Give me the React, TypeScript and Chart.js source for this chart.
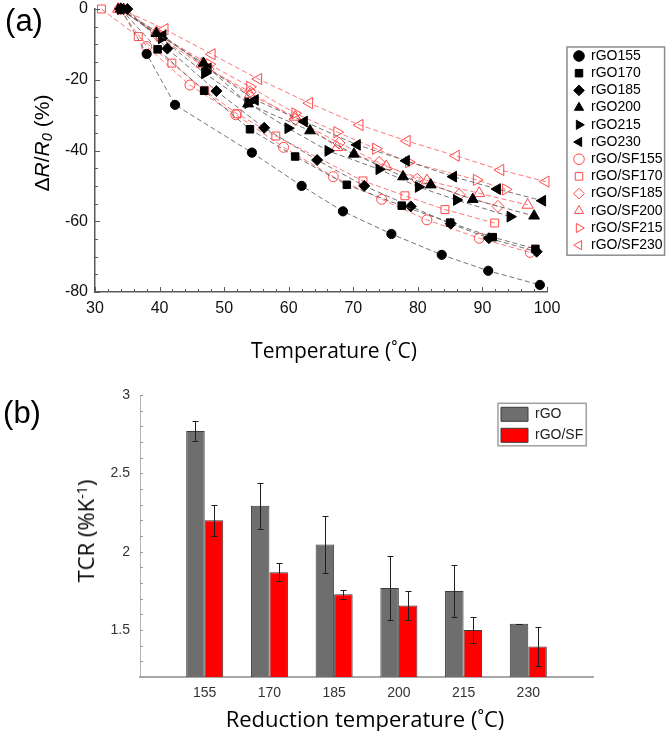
import React, { useEffect, useRef } from 'react';
import { Chart, registerables } from 'chart.js';

Chart.register(...registerables);
Chart.defaults.font.family = '"Liberation Sans", Arial, sans-serif';

// ---------------- Panel (a): ΔR/R0 vs temperature ----------------
const T_RGO155 = [34, 38, 42.4, 54.3, 62, 68.4, 75.9, 83.7, 90.9, 98.9];
const R_RGO155 = [0, -12.7, -27.1, -40.6, -50, -57.2, -63.6, -69.5, -74, -78];
const T_RGO170 = [34, 39.7, 46.9, 54, 61, 69, 77.5, 85, 91.6, 98.2];
const R_RGO170 = [0, -11.4, -23.1, -34, -41.7, -49.7, -55.6, -60.4, -64.5, -67.8];
const T_RGO185 = [35, 41.2, 48.8, 56.2, 64.4, 71.7, 78.9, 85.1, 91, 98.4];
const R_RGO185 = [0, -11.2, -23.2, -33.6, -42.7, -50, -55.8, -60.7, -64.8, -68.6];
const T_RGO200 = [34, 39.5, 46.8, 53.7, 63.3, 70.1, 77.7, 82, 88.5, 98];
const R_RGO200 = [0, -6.9, -15.3, -26.8, -34.4, -41, -47.4, -49.7, -53.8, -58.5];
const T_RGO215 = [34, 40.3, 47, 53.7, 59.9, 66.1, 74, 80.1, 86, 94.3];
const R_RGO215 = [0, -8.3, -18.2, -26.6, -33.7, -40.1, -45.3, -50.3, -54, -58.7];
const T_RGO230 = [34, 40.5, 47.5, 54.8, 62.4, 70.6, 78.2, 85.5, 92.3, 99.3];
const R_RGO230 = [0, -7.5, -16.8, -25.7, -31.8, -38.4, -42.9, -47.4, -50.9, -54.2];
const T_SF155 = [33.8, 38, 44.7, 51.8, 59.2, 66.9, 74.4, 81.4, 89.5, 97.4];
const R_SF155 = [0, -10.6, -21.5, -29.9, -39.1, -47.4, -53.8, -59.6, -64.8, -68.8];
const T_SF170 = [31, 36.7, 41.9, 47, 52, 58, 71.5, 78, 84.2, 91.9];
const R_SF170 = [0, -7.8, -15.3, -23, -29.6, -35.9, -48.6, -52.8, -56.7, -60.5];
const T_SF185 = [34, 40, 47.5, 54, 61, 67.8, 74, 79.9, 86.4, 92.4];
const R_SF185 = [0, -8, -17, -23.4, -31.2, -37.9, -43.4, -48.1, -52.5, -55.8];
const T_SF200 = [33.6, 39.5, 46.5, 54, 61, 67.5, 75.1, 81.4, 89.5, 97];
const R_SF200 = [0, -6.5, -15.5, -24.2, -30.5, -39.1, -44.5, -48.5, -52.1, -55.4];
const T_SF215 = [34, 40, 47.7, 54, 61, 67.5, 73.5, 78.6, 89.1, 93.6];
const R_SF215 = [0, -7.5, -15.6, -22, -29.5, -34.8, -39.5, -43.3, -48.3, -51];
const T_SF230 = [34, 40.8, 48.1, 55.3, 63.2, 71, 78.3, 85.9, 92.8, 99.8];
const R_SF230 = [0, -5.7, -12.8, -19.8, -26.6, -32.8, -37.3, -41.5, -45.5, -48.8];

const X_MIN = 30, X_MAX = 100, X_STEP = 10, X_MINOR = 2;
const Y_MIN = -80, Y_MAX = 0, Y_STEP = 20, Y_MINOR = 5;

// ---------------- Panel (b): TCR bars ----------------
const CATEGORIES = ['155', '170', '185', '200', '215', '230'];
const TCR_RGO = [2.77, 2.293, 2.045, 1.768, 1.749, 1.54];
const ERR_RGO = [0.065, 0.147, 0.18, 0.207, 0.165, 0];
const TCR_SF = [2.2, 1.868, 1.728, 1.656, 1.5, 1.395];
const ERR_SF = [0.1, 0.057, 0.027, 0.095, 0.083, 0.127];
const B_MIN = 1.2, B_MAX = 3, B_STEP = 0.5;

// ---------------- styles ----------------
const BLACK_LINE = 'rgba(90,90,90,0.85)';
const RED_LINE = 'rgba(255,85,85,0.8)';
const RED_MARK = '#ff4a4a';
const AXIS_A = '#5a5a5a';

const SERIES_A = [
  { label: 'rGO155', t: T_RGO155, r: R_RGO155, ps: 'circle', rot: 0, red: false, rad: 4.6 },
  { label: 'rGO170', t: T_RGO170, r: R_RGO170, ps: 'rect', rot: 0, red: false, rad: 5.3 },
  { label: 'rGO185', t: T_RGO185, r: R_RGO185, ps: 'rectRot', rot: 0, red: false, rad: 5.5 },
  { label: 'rGO200', t: T_RGO200, r: R_RGO200, ps: 'triangle', rot: 0, red: false, rad: 6.2 },
  { label: 'rGO215', t: T_RGO215, r: R_RGO215, ps: 'triangle', rot: 90, red: false, rad: 6.2 },
  { label: 'rGO230', t: T_RGO230, r: R_RGO230, ps: 'triangle', rot: -90, red: false, rad: 6.2 },
  { label: 'rGO/SF155', t: T_SF155, r: R_SF155, ps: 'circle', rot: 0, red: true, rad: 5 },
  { label: 'rGO/SF170', t: T_SF170, r: R_SF170, ps: 'rect', rot: 0, red: true, rad: 5.6 },
  { label: 'rGO/SF185', t: T_SF185, r: R_SF185, ps: 'rectRot', rot: 0, red: true, rad: 6 },
  { label: 'rGO/SF200', t: T_SF200, r: R_SF200, ps: 'triangle', rot: 0, red: true, rad: 6.5 },
  { label: 'rGO/SF215', t: T_SF215, r: R_SF215, ps: 'triangle', rot: 90, red: true, rad: 6.5 },
  { label: 'rGO/SF230', t: T_SF230, r: R_SF230, ps: 'triangle', rot: -90, red: true, rad: 6.5 },
];

// Places a 'chartArea' legend at a fixed spot and frames it
const legendPlacer = (id: string, left: number, top: number, frame: any) => ({
  id,
  afterLayout(chart: any) {
    const lg = chart.legend;
    if (!lg) return;
    const w = lg.width, h = lg.height;
    lg.left = left; lg.top = top; lg.right = left + w; lg.bottom = top + h;
  },
  afterDraw(chart: any) {
    const lg = chart.legend;
    if (!lg || !lg.legendHitBoxes || !lg.legendHitBoxes.length) return;
    const hb = lg.legendHitBoxes;
    let l = Infinity, r = -Infinity, t = Infinity, b = -Infinity;
    hb.forEach((h: any) => {
      l = Math.min(l, h.left); r = Math.max(r, h.left + h.width);
      t = Math.min(t, h.top); b = Math.max(b, h.top + h.height);
    });
    const ctx = chart.ctx;
    ctx.save();
    ctx.strokeStyle = frame.color;
    ctx.lineWidth = frame.width;
    ctx.strokeRect(l - frame.l, t - frame.t, r - l + frame.l + frame.r, b - t + frame.t + frame.b);
    ctx.restore();
  },
});

const innerTicksA = {
  id: 'innerTicksA',
  afterDraw(chart: any) {
    const { ctx, chartArea: ca, scales } = chart;
    const xs = scales.x, ys = scales.y;
    ctx.save();
    ctx.strokeStyle = AXIS_A;
    ctx.lineWidth = 1;
    ctx.beginPath();
    for (let v = X_MIN; v <= X_MAX; v += X_MINOR) {
      const len = v % X_STEP === 0 ? 5 : 3;
      const px = Math.round(xs.getPixelForValue(v)) + 0.5;
      ctx.moveTo(px, ca.bottom); ctx.lineTo(px, ca.bottom - len);
    }
    for (let v = Y_MIN; v <= Y_MAX; v += Y_MINOR) {
      const len = v % Y_STEP === 0 ? 5 : 3;
      const py = Math.round(ys.getPixelForValue(v)) + 0.5;
      ctx.moveTo(ca.left, py); ctx.lineTo(ca.left + len, py);
    }
    ctx.stroke();
    ctx.restore();
  },
};

const innerTicksB = {
  id: 'innerTicksB',
  afterDraw(chart: any) {
    const { ctx, chartArea: ca, scales } = chart;
    const ys = scales.y;
    ctx.save();
    ctx.strokeStyle = '#9a9a9a';
    ctx.lineWidth = 1;
    ctx.beginPath();
    for (let k = Math.round(B_MIN * 10); k <= Math.round(B_MAX * 10); k++) {
      const py = Math.round(ys.getPixelForValue(k / 10)) + 0.5;
      ctx.moveTo(ca.left, py); ctx.lineTo(ca.left + 3, py);
    }
    ctx.stroke();
    ctx.restore();
  },
};

const errorBars = {
  id: 'errorBars',
  afterDatasetsDraw(chart: any) {
    const { ctx } = chart;
    const ys = chart.scales.y;
    ctx.save();
    ctx.strokeStyle = '#1e1e1e';
    ctx.lineWidth = 1;
    chart.data.datasets.forEach((ds: any, di: number) => {
      const errs = ds.errors;
      if (!errs) return;
      const meta = chart.getDatasetMeta(di);
      meta.data.forEach((bar: any, i: number) => {
        const v = ds.data[i];
        const e = errs[i];
        if (v == null || e == null) return;
        const x = Math.round(bar.x) + 0.5;
        const yt = Math.round(ys.getPixelForValue(v + e)) + 0.5;
        const yb = Math.round(ys.getPixelForValue(v - e)) + 0.5;
        ctx.beginPath();
        ctx.moveTo(x, yt); ctx.lineTo(x, yb);
        ctx.moveTo(x - 3, yt); ctx.lineTo(x + 3, yt);
        ctx.moveTo(x - 3, yb); ctx.lineTo(x + 3, yb);
        ctx.stroke();
      });
    });
    ctx.restore();
  },
};

function ChartA() {
  const ref = useRef<HTMLCanvasElement>(null);
  useEffect(() => {
    const datasets = SERIES_A.map((s) => ({
      label: s.label,
      data: s.t.map((t, i) => ({ x: t, y: s.r[i] })),
      borderColor: s.red ? RED_LINE : BLACK_LINE,
      borderWidth: 1,
      borderDash: [5, 3],
      pointStyle: s.ps,
      pointRotation: s.rot,
      pointRadius: s.rad,
      pointBorderWidth: 1,
      pointBackgroundColor: s.red ? 'rgba(0,0,0,0)' : '#000',
      pointBorderColor: s.red ? RED_MARK : '#000',
      fill: false,
      tension: 0,
      clip: false,
    }));
    const chart = new Chart(ref.current as HTMLCanvasElement, {
      type: 'line',
      data: { datasets },
      options: {
        responsive: false,
        animation: false,
        events: [],
        layout: { padding: { left: 0, top: 9, right: 119, bottom: 0 } },
        scales: {
          x: {
            type: 'linear',
            min: X_MIN, max: X_MAX,
            grid: { display: false, drawTicks: false },
            border: { display: true, color: AXIS_A, width: 1.5 },
            ticks: { stepSize: X_STEP, padding: 7, color: '#111', font: { size: 16 } },
            afterFit: (s: any) => { s.height = 88; s.paddingLeft = 0; s.paddingRight = 0; },
          },
          y: {
            type: 'linear',
            min: Y_MIN, max: Y_MAX,
            grid: { display: false, drawTicks: false },
            border: { display: true, color: AXIS_A, width: 1.5 },
            ticks: { stepSize: Y_STEP, padding: 7, color: '#111', font: { size: 16 } },
            afterFit: (s: any) => { s.width = 95; s.paddingTop = 0; s.paddingBottom = 0; },
          },
        },
        plugins: {
          legend: {
            position: 'chartArea',
            align: 'start',
            labels: {
              usePointStyle: true,
              boxWidth: 10,
              boxHeight: 7.5,
              padding: 3.2,
              textAlign: 'left',
              color: '#000',
              font: { size: 14 },
            },
          },
          tooltip: { enabled: false },
        },
      } as any,
      plugins: [innerTicksA, legendPlacer('legendA', 570.8, 45.8, { color: '#8c8c8c', width: 1.5, l: 7, r: 2, t: 2, b: 3 })],
    });
    return () => chart.destroy();
  }, []);
  return <canvas ref={ref} width={666} height={380} style={{ position: 'absolute', left: 0, top: 0, width: 666, height: 380 }} />;
}

function ChartB() {
  const ref = useRef<HTMLCanvasElement>(null);
  useEffect(() => {
    const labels = ['', ...CATEGORIES, ''];
    const chart = new Chart(ref.current as HTMLCanvasElement, {
      type: 'bar',
      data: {
        labels,
        datasets: [
          {
            label: 'rGO',
            data: [null, ...TCR_RGO, null],
            errors: [null, ...ERR_RGO, null],
            backgroundColor: '#6e6e6e',
            borderColor: '#3a3a3a',
            borderWidth: 1,
            categoryPercentage: 0.572,
            barPercentage: 1,
          },
          {
            label: 'rGO/SF',
            data: [null, ...TCR_SF, null],
            errors: [null, ...ERR_SF, null],
            backgroundColor: '#ff0000',
            borderColor: '#3a3a3a',
            borderWidth: 1,
            categoryPercentage: 0.572,
            barPercentage: 1,
          },
        ],
      } as any,
      options: {
        responsive: false,
        animation: false,
        events: [],
        layout: { padding: { left: 0, top: 15, right: 73, bottom: 0 } },
        scales: {
          x: {
            type: 'category',
            offset: false,
            grid: { display: false, drawTicks: false },
            border: { display: true, color: '#a8a8a8', width: 2 },
            ticks: { padding: 8, color: '#333', font: { size: 14 }, autoSkip: false, maxRotation: 0 },
            afterFit: (s: any) => { s.height = 54; s.paddingLeft = 0; s.paddingRight = 0; },
          },
          y: {
            type: 'linear',
            min: B_MIN, max: B_MAX,
            grid: { display: false, drawTicks: false },
            border: { display: true, color: '#b4b4b4', width: 1 },
            ticks: {
              stepSize: B_STEP,
              padding: 10,
              color: '#333',
              font: { size: 14 },
              callback: (v: any) => {
                const n = Number(v);
                return Math.abs(n * 2 - Math.round(n * 2)) < 1e-6 ? String(Math.round(n * 10) / 10) : '';
              },
            },
            afterFit: (s: any) => { s.width = 140; s.paddingTop = 0; s.paddingBottom = 0; },
          },
        },
        plugins: {
          legend: {
            position: 'chartArea',
            align: 'start',
            labels: {
              boxWidth: 27,
              boxHeight: 14,
              padding: 7,
              textAlign: 'left',
              color: '#222',
              font: { size: 14 },
            },
          },
          tooltip: { enabled: false },
        },
      } as any,
      plugins: [innerTicksB, errorBars, legendPlacer('legendB', 494, 20.3, { color: '#a0a0a0', width: 1.5, l: 3, r: 3, t: 4, b: 3.5 })],
    });
    return () => chart.destroy();
  }, []);
  return <canvas ref={ref} width={666} height={351} style={{ position: 'absolute', left: 0, top: 380, width: 666, height: 351 }} />;
}

const center = (x: number, y: number, rot = ''): React.CSSProperties => ({
  position: 'absolute',
  left: x,
  top: y,
  transform: `translate(-50%, -50%)${rot}`,
  whiteSpace: 'nowrap',
  lineHeight: 1,
  color: '#000',
});

export default function App() {
  return (
    <div style={{ position: 'fixed', left: 0, top: 0, width: 666, height: 731, overflow: 'hidden', background: '#fff' }}>
      <ChartA />
      <ChartB />
      <div style={{ ...center(24, 20), fontFamily: '"Liberation Sans", Arial, sans-serif', fontSize: 31 }}>(a)</div>
      <div style={{ ...center(22, 412), fontFamily: '"Liberation Sans", Arial, sans-serif', fontSize: 31 }}>(b)</div>
      <div style={{ ...center(43, 143, ' rotate(-90deg)'), fontFamily: '"Liberation Sans", Arial, sans-serif', fontSize: 21 }}>
        Δ<i>R</i>/<i>R</i><sub style={{ fontSize: '0.7em', verticalAlign: '-0.25em' }}><i>0</i></sub> (%)
      </div>
      <div style={{ ...center(334, 350), fontFamily: '"Open Sans", "Noto Sans", sans-serif', fontSize: 21 }}>Temperature (˚C)</div>
      <div style={{ ...center(85, 531, ' rotate(-90deg)'), fontFamily: '"Open Sans", "Noto Sans", sans-serif', fontSize: 22 }}>
        TCR (%K<sup style={{ fontSize: '0.65em', verticalAlign: '0.5em' }}>-1</sup>)
      </div>
      <div style={{ ...center(365, 718), fontFamily: '"Open Sans", "Noto Sans", sans-serif', fontSize: 22 }}>Reduction temperature (˚C)</div>
    </div>
  );
}
